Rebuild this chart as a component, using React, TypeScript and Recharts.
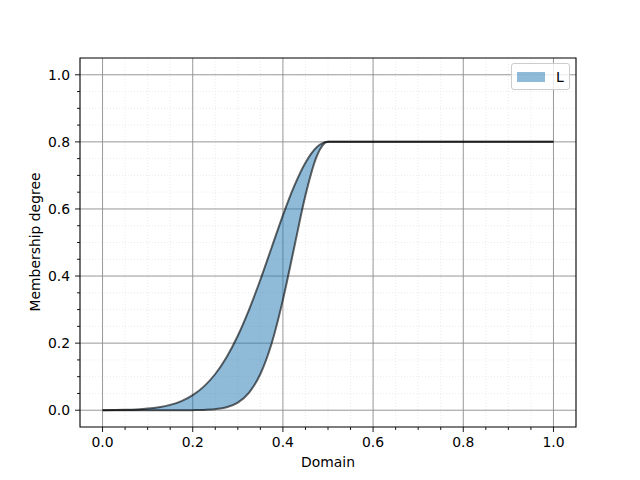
import React from 'react';
import {
  ComposedChart,
  Area,
  Line,
  XAxis,
  YAxis,
  CartesianGrid,
  ReferenceArea,
} from 'recharts';

// domain samples and the two membership bounds
const domainX = [
  0, 0.025, 0.05, 0.075, 0.1, 0.125, 0.15, 0.175, 0.2, 0.225, 0.25, 0.275, 0.3,
  0.325, 0.35, 0.375, 0.4, 0.425, 0.45, 0.475, 0.5, 0.6, 0.7, 0.8, 0.9, 1.0,
];
const upperMf = [
  0.0003, 0.0006, 0.0012, 0.0025, 0.0048, 0.0089, 0.0159, 0.0272, 0.0449, 0.0711,
  0.108, 0.158, 0.222, 0.3, 0.389, 0.485, 0.581, 0.668, 0.738, 0.784, 0.8, 0.8,
  0.8, 0.8, 0.8, 0.8,
];
const lowerMf = [
  0, 0, 0, 0, 0, 0, 0, 0, 0.0003, 0.001, 0.0031, 0.0089, 0.0229, 0.0526, 0.108,
  0.199, 0.329, 0.485, 0.641, 0.757, 0.8, 0.8, 0.8, 0.8, 0.8, 0.8,
];

const majorTicks = [0, 0.2, 0.4, 0.6, 0.8, 1.0];
const minorTicks = [
  -0.05, 0, 0.05, 0.1, 0.15, 0.2, 0.25, 0.3, 0.35, 0.4, 0.45, 0.5, 0.55, 0.6,
  0.65, 0.7, 0.75, 0.8, 0.85, 0.9, 0.95, 1.0, 1.05,
];
const seriesName = 'L';

const data = domainX.map((x, i) => ({
  x,
  upper: upperMf[i],
  lower: lowerMf[i],
  range: [lowerMf[i], upperMf[i]],
}));

const FONT = 'DejaVu Sans, sans-serif';
const FILL = '#1f77b4';
const LINE = 'rgba(0,0,0,0.6)';

const isMajor = (v: number) => majorTicks.some((m) => Math.abs(m - v) < 1e-6);

// bottom tick: long mark + label for majors, short mark for minors
function XTick(props: any) {
  const { x, y, payload } = props;
  const v = payload.value as number;
  if (v < -1e-6 || v > 1 + 1e-6) return <g />;
  const major = isMajor(v);
  return (
    <g>
      <line x1={x} x2={x} y1={y} y2={y + (major ? 5 : 3)} stroke="#000" strokeWidth={0.9} />
      {major && (
        <text x={x} y={y + 10} dy="0.75em" textAnchor="middle" fill="#000" fontSize={13.9} fontFamily={FONT}>
          {v.toFixed(1)}
        </text>
      )}
    </g>
  );
}

function YTick(props: any) {
  const { x, y, payload } = props;
  const v = payload.value as number;
  if (v < -1e-6 || v > 1 + 1e-6) return <g />;
  const major = isMajor(v);
  return (
    <g>
      <line x1={x - (major ? 5 : 3)} x2={x} y1={y} y2={y} stroke="#000" strokeWidth={0.9} />
      {major && (
        <text x={x - 10} y={y} dy="0.36em" textAnchor="end" fill="#000" fontSize={13.9} fontFamily={FONT}>
          {v.toFixed(1)}
        </text>
      )}
    </g>
  );
}

export default function App() {
  return (
    <div style={{ position: 'absolute', left: 0, top: 0, width: 640, height: 480, background: '#fff' }}>
      <ComposedChart
        width={640}
        height={480}
        data={data}
        margin={{ top: 58, right: 64, bottom: 52, left: 79 }}
      >
        <CartesianGrid
          stroke="#e6e6e6"
          strokeDasharray="1 2"
          strokeWidth={0.8}
        />
        <CartesianGrid
          stroke="#8f8f8f"
          strokeWidth={0.9}
          verticalValues={majorTicks}
          horizontalValues={majorTicks}
        />

        <XAxis
          dataKey="x"
          type="number"
          domain={[-0.05, 1.05]}
          ticks={minorTicks}
          interval={0}
          height={1}
          tickSize={0}
          tickMargin={0}
          tickLine={false}
          axisLine={false}
          tick={<XTick />}
          allowDataOverflow
        />
        <YAxis
          type="number"
          domain={[-0.05, 1.05]}
          ticks={minorTicks}
          interval={0}
          width={1}
          tickSize={0}
          tickMargin={0}
          tickLine={false}
          axisLine={false}
          tick={<YTick />}
          allowDataOverflow
        />

        <Area
          dataKey="range"
          name={seriesName}
          type="monotone"
          fill={FILL}
          fillOpacity={0.5}
          stroke="none"
          isAnimationActive={false}
        />
        <Line
          dataKey="upper"
          type="monotone"
          stroke={LINE}
          strokeWidth={2}
          dot={false}
          isAnimationActive={false}
        />
        <Line
          dataKey="lower"
          type="monotone"
          stroke={LINE}
          strokeWidth={2}
          dot={false}
          isAnimationActive={false}
        />
        {/* axes frame */}
        <ReferenceArea
          x1={-0.05}
          x2={1.05}
          y1={-0.05}
          y2={1.05}
          fill="none"
          stroke="#000"
          strokeWidth={1.1}
          ifOverflow="visible"
        />
      </ComposedChart>

      <div
        style={{
          position: 'absolute',
          left: 511,
          top: 63,
          display: 'flex',
          alignItems: 'center',
          boxSizing: 'border-box',
          width: 59,
          height: 27,
          border: '1px solid #cccccc',
          borderRadius: 3,
          background: 'rgba(255,255,255,0.8)',
          fontFamily: FONT,
          fontSize: 13.9,
          color: '#000',
        }}
      >
        <span
          style={{
            display: 'inline-block',
            width: 28,
            height: 10,
            marginLeft: 5,
            background: FILL,
            opacity: 0.5,
          }}
        />
        <span style={{ marginLeft: 11 }}>{seriesName}</span>
      </div>

      <div
        style={{
          position: 'absolute',
          left: 328,
          top: 462,
          transform: 'translate(-50%, -50%)',
          fontFamily: FONT,
          fontSize: 13.9,
          whiteSpace: 'nowrap',
        }}
      >
        Domain
      </div>
      <div
        style={{
          position: 'absolute',
          left: 35,
          top: 242,
          transform: 'translate(-50%, -50%) rotate(-90deg)',
          fontFamily: FONT,
          fontSize: 13.9,
          whiteSpace: 'nowrap',
        }}
      >
        Membership degree
      </div>
    </div>
  );
}
